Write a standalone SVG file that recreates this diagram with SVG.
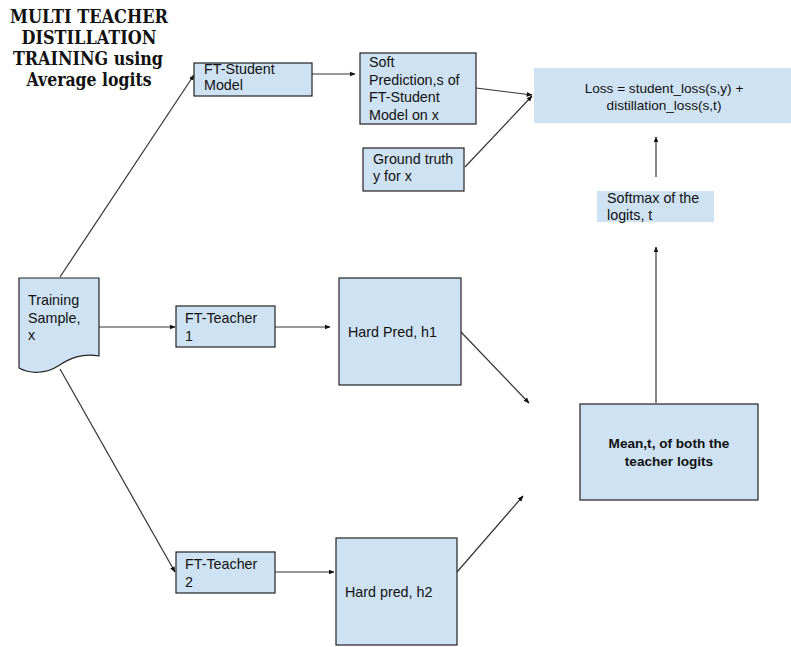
<svg xmlns="http://www.w3.org/2000/svg" width="791" height="647" viewBox="0 0 791 647">
  <style>
    .box { fill: #cfe2f3; stroke: #222; stroke-width: 1.2; }
    .flat { fill: #cfe2f3; stroke: none; }
    .lbl { font-family: "Liberation Sans", Arial, sans-serif; font-size: 14.3px; fill: #111; }
    .sm { font-size: 13.6px; }
    .bold { font-weight: bold; }
    .title { font-family: "DejaVu Serif", "Liberation Serif", serif; font-weight: bold; font-size: 18.8px; fill: #111; }
    .edge { fill: none; stroke: #333; stroke-width: 1.2; marker-end: url(#arrow); }
  </style>
  <defs>
    <marker id="arrow" viewBox="0 0 10 10" refX="9" refY="5" markerWidth="6" markerHeight="6" orient="auto" markerUnits="userSpaceOnUse">
      <path d="M0,1 L10,5 L0,9 Z" fill="#111"/>
    </marker>
  </defs>
  <rect width="791" height="647" fill="#fff"/>

  <g id="title" class="title" text-anchor="middle">
    <text x="89" y="23" textLength="158" lengthAdjust="spacingAndGlyphs">MULTI TEACHER</text>
    <text x="89" y="44" textLength="135" lengthAdjust="spacingAndGlyphs">DISTILLATION</text>
    <text x="88" y="65" textLength="150" lengthAdjust="spacingAndGlyphs">TRAINING using</text>
    <text x="89" y="86" textLength="125" lengthAdjust="spacingAndGlyphs">Average logits</text>
  </g>

  <g id="connectors">
    <line class="edge" x1="60" y1="277" x2="194" y2="75"/>
    <line class="edge" x1="312" y1="74" x2="355" y2="74"/>
    <line class="edge" x1="476" y1="88" x2="532" y2="95"/>
    <line class="edge" x1="465" y1="167" x2="532" y2="96"/>
    <line class="edge" x1="656" y1="177" x2="656" y2="137"/>
    <line class="edge" x1="99" y1="327" x2="175" y2="327"/>
    <line class="edge" x1="275" y1="327" x2="330" y2="327"/>
    <line class="edge" x1="60" y1="369" x2="175" y2="572"/>
    <line class="edge" x1="275" y1="572" x2="334" y2="572"/>
    <line class="edge" x1="461" y1="332" x2="529" y2="403"/>
    <line class="edge" x1="457" y1="572" x2="523" y2="496"/>
    <line class="edge" x1="656" y1="403" x2="656" y2="247"/>
  </g>

  <g id="ft-student">
    <rect class="box" x="194" y="63" width="118" height="33"/>
    <text class="lbl" x="204" y="74" font-size="13.8">FT-Student</text>
    <text class="lbl" x="204" y="89.5" font-size="13.8">Model</text>
  </g>

  <g id="soft-prediction">
    <rect class="box" x="360" y="53" width="116" height="71"/>
    <text class="lbl" x="369" y="67">Soft</text>
    <text class="lbl" x="369" y="85">Prediction,s of</text>
    <text class="lbl" x="369" y="102">FT-Student</text>
    <text class="lbl" x="369" y="120">Model on x</text>
  </g>

  <g id="ground-truth">
    <rect class="box" x="363" y="148" width="101" height="43"/>
    <text class="lbl" x="373" y="164">Ground truth</text>
    <text class="lbl" x="373" y="181">y for x</text>
  </g>

  <g id="loss">
    <rect class="flat" x="534" y="68" width="257" height="55"/>
    <text class="lbl sm" x="664" y="93" text-anchor="middle">Loss = student_loss(s,y) +</text>
    <text class="lbl sm" x="664" y="110" text-anchor="middle">distillation_loss(s,t)</text>
  </g>

  <g id="softmax">
    <rect class="flat" x="597" y="191" width="117" height="31"/>
    <text class="lbl" x="607" y="203">Softmax of the</text>
    <text class="lbl" x="607" y="220">logits, t</text>
  </g>

  <g id="training-sample">
    <path class="box" d="M19,278 H99 V356 C82,353 70,358 58,366 C46,374 30,374 19,368 Z"/>
    <text class="lbl" x="28" y="305">Training</text>
    <text class="lbl" x="28" y="323">Sample,</text>
    <text class="lbl" x="28" y="340">x</text>
  </g>

  <g id="ft-teacher-1">
    <rect class="box" x="176" y="306" width="99" height="41"/>
    <text class="lbl" x="185" y="323">FT-Teacher</text>
    <text class="lbl" x="185" y="341">1</text>
  </g>

  <g id="hard-pred-1">
    <rect class="box" x="339" y="278" width="122" height="107"/>
    <text class="lbl" x="348" y="337">Hard Pred, h1</text>
  </g>

  <g id="ft-teacher-2">
    <rect class="box" x="176" y="552" width="99" height="41"/>
    <text class="lbl" x="185" y="569">FT-Teacher</text>
    <text class="lbl" x="185" y="587">2</text>
  </g>

  <g id="hard-pred-2">
    <rect class="box" x="336" y="538" width="121" height="107"/>
    <text class="lbl" x="345" y="597">Hard pred, h2</text>
  </g>

  <g id="mean">
    <rect class="box" x="580" y="404" width="178" height="96"/>
    <text class="lbl sm bold" x="669" y="448" text-anchor="middle">Mean,t, of both the</text>
    <text class="lbl sm bold" x="669" y="466" text-anchor="middle">teacher logits</text>
  </g>
</svg>
